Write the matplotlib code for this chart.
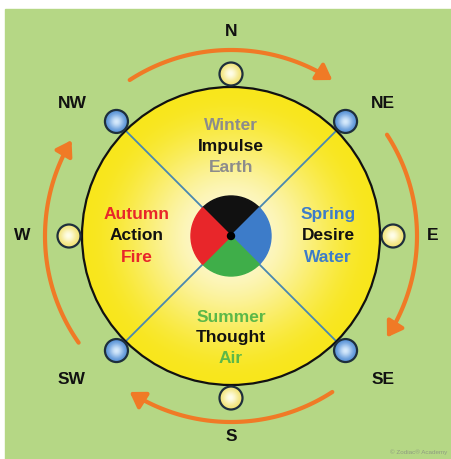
import numpy as np
import matplotlib
matplotlib.use("Agg")
import matplotlib.pyplot as plt
from matplotlib.patches import Circle, Wedge, Rectangle, FancyArrowPatch
from matplotlib.path import Path

plt.rcParams['font.family'] = ['Liberation Sans', 'DejaVu Sans']

# compass points and their angles (degrees, counter-clockwise from east)
directions = ['N', 'NE', 'E', 'SE', 'S', 'SW', 'W', 'NW']
dir_angles = [90, 45, 0, -45, -90, -135, 180, 135]
marker_kind = ['yellow', 'blue', 'yellow', 'blue', 'yellow', 'blue', 'yellow', 'blue']

# quadrants: top, right, bottom, left
quad_angles = [90, 0, -90, 180]
seasons = ['Winter', 'Spring', 'Summer', 'Autumn']
qualities = ['Impulse', 'Desire', 'Thought', 'Action']
elements = ['Earth', 'Water', 'Air', 'Fire']
quad_colors = ['#111111', '#3d7cc9', '#3fae49', '#e8262a']
text_colors = ['#8c8c8c', '#3d7cc9', '#5cb848', '#e8262a']

# arrows around the wheel (centre angle of each arc)
arc_centres = [90, 0, -90, 182]

W, H = 452, 459
fig = plt.figure(figsize=(W / 100, H / 100), dpi=100)
ax = fig.add_axes([0, 0, 1, 1])
ax.axis('off')

cx, cy = 231, 223
R = 149

ax.add_patch(Rectangle((5, 0), W - 5, H - 9, color='#b5d785', zorder=0))


def grad_disc(x0, y0, r, c_in, c_out, lo, hi, z):
    n = 200
    g = np.linspace(-1, 1, n)
    xx, yy = np.meshgrid(g, g)
    t = np.sqrt(xx ** 2 + yy ** 2)
    f = np.clip((t - lo) / (hi - lo), 0, 1)
    f = f * f * (3 - 2 * f)
    c_in = np.array(matplotlib.colors.to_rgb(c_in))
    c_out = np.array(matplotlib.colors.to_rgb(c_out))
    img = c_in[None, None, :] * (1 - f[..., None]) + c_out[None, None, :] * f[..., None]
    im = ax.imshow(img, extent=[x0 - r, x0 + r, y0 - r, y0 + r], origin='lower',
                   zorder=z, interpolation='bilinear')
    clip = Circle((x0, y0), r, transform=ax.transData)
    im.set_clip_path(clip)


# big wheel
grad_disc(cx, cy, R, '#fdf8d2', '#f8e61c', 0.1, 1.0, 1)
ax.add_patch(Circle((cx, cy), R, fill=False, ec='#111111', lw=1.6, zorder=3))

# diagonal lines
for a, kind in zip(dir_angles, marker_kind):
    if kind == 'blue':
        rad = np.deg2rad(a)
        ax.plot([cx, cx + (R + 2) * np.cos(rad)], [cy, cy + (R + 2) * np.sin(rad)],
                color='#4a88b0', lw=1.3, zorder=2)

# centre pie
for qa, qc in zip(quad_angles, quad_colors):
    ax.add_patch(Wedge((cx, cy), 40, qa - 45, qa + 45, color=qc, zorder=4))
ax.add_patch(Circle((cx, cy), 3.5, color='#000000', zorder=5))

# markers on the rim
for a, kind in zip(dir_angles, marker_kind):
    rad = np.deg2rad(a)
    mx, my = cx + 162 * np.cos(rad), cy + 162 * np.sin(rad)
    if kind == 'blue':
        grad_disc(mx, my, 11.5, '#d8ebfc', '#5a94d8', 0.0, 1.0, 6)
    else:
        grad_disc(mx, my, 11.5, '#fffeea', '#f2e47a', 0.0, 1.0, 6)
    ax.add_patch(Circle((mx, my), 11.5, fill=False, ec='#1e2f3c', lw=1.6, zorder=7))

# compass labels (layout offsets from the wheel centre, pixels)
label_dx = [0, 152, 202, 152, 0, -159, -209, -159]
label_dy = [205, 133, 0, -144, -201, -144, 0, 133]
for d, dx, dy in zip(directions, label_dx, label_dy):
    ax.text(cx + dx, cy + dy, d, ha='center', va='center',
            fontsize=12.5, fontweight='bold', color='#111111', zorder=8)

# quadrant words
text_r = [90, 97, 102, 94]
for qa, tr, s, q, e, tc in zip(quad_angles, text_r, seasons, qualities, elements, text_colors):
    rad = np.deg2rad(qa)
    tx, ty = cx + tr * np.cos(rad), cy + tr * np.sin(rad)
    for k, (word, col) in enumerate([(s, tc), (q, '#111111'), (e, tc)]):
        ax.text(tx, ty + 21 * (1 - k), word, ha='center', va='center', fontsize=12.5,
                fontweight='bold', color=col, zorder=8)

# orange arrows
for ac in arc_centres:
    th = np.deg2rad(np.linspace(ac + 33, ac - 33, 60))
    verts = np.column_stack([cx + 186 * np.cos(th), cy + 186 * np.sin(th)])
    p = FancyArrowPatch(path=Path(verts), arrowstyle='-|>,head_length=4,head_width=2.6',
                        color='#f07a26', lw=3.0, mutation_scale=2.2, zorder=3)
    ax.add_patch(p)

ax.text(447, 7, '\u00a9 Zodiac\u00ae Academy', ha='right', va='center', fontsize=4.5,
        color='#8e9c80', zorder=8)

ax.set_xlim(0, W)
ax.set_ylim(0, H)
fig.savefig('out.png', dpi=100)
